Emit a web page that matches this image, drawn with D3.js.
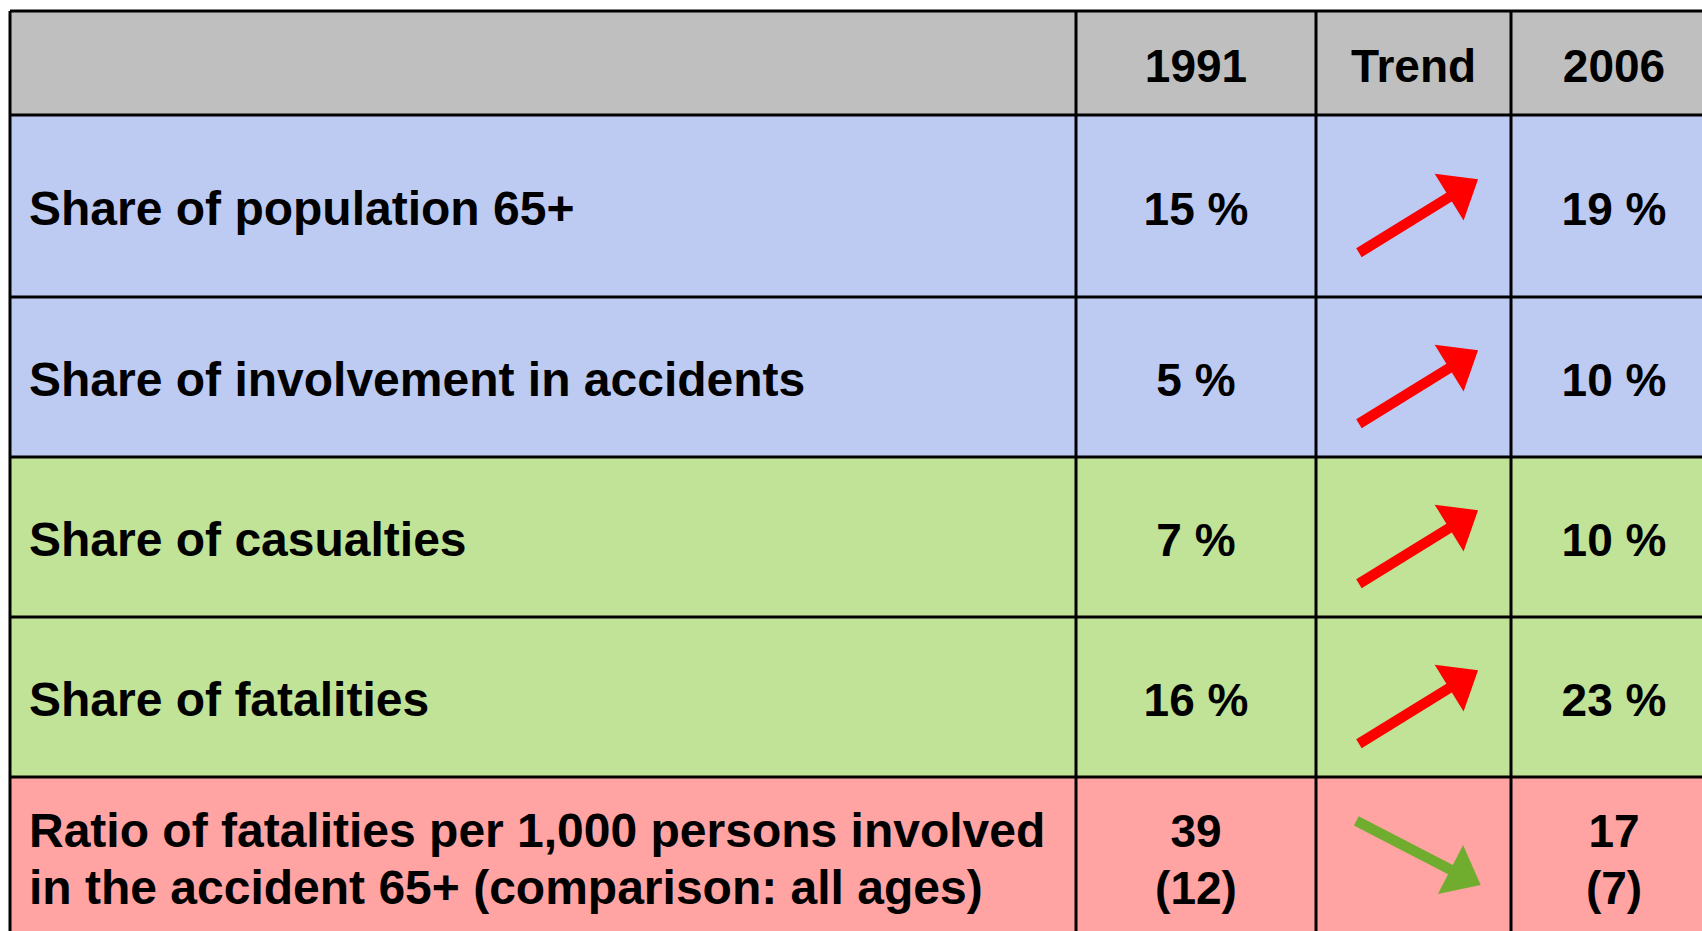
<!DOCTYPE html>
<html>
<head>
<meta charset="utf-8">
<script src="https://cdn.jsdelivr.net/npm/d3@7"></script>
<style>
  body { margin: 0; background: #fff; }
  text { font-family: "Liberation Sans", Arial, Helvetica, sans-serif; font-weight: bold; fill: #000; }
</style>
</head>
<body>
<svg id="table" width="1702" height="931"></svg>
<script>
// data
var headers = ["", "1991", "Trend", "2006"];
var labels = [
    ["Share of population 65+"],
    ["Share of involvement in accidents"],
    ["Share of casualties"],
    ["Share of fatalities"],
    ["Ratio of fatalities per 1,000 persons involved", "in the accident 65+ (comparison: all ages)"]
];
var values1991 = [["15 %"], ["5 %"], ["7 %"], ["16 %"], ["39", "(12)"]];
var values2006 = [["19 %"], ["10 %"], ["10 %"], ["23 %"], ["17", "(7)"]];
var trends = ["up", "up", "up", "up", "down"];
var groups = ["population", "population", "accidents", "accidents", "ratio"];

// layout
var rowH = [104, 182, 160, 160, 160, 160];
var colW = [1066, 240, 195, 206];
var x0 = 10, y0 = 11;
var rowEdges = [y0].concat(Array.from(d3.cumsum(rowH), function(d) { return d + y0; }));
var colEdges = [x0].concat(Array.from(d3.cumsum(colW), function(d) { return d + x0; }));

var colorScale = d3.scaleOrdinal()
    .domain(["header", "population", "accidents", "ratio"])
    .range(["#bfbfbf", "#bdcbf3", "#c0e397", "#ffa3a3"]);
var arrowColor = d3.scaleOrdinal().domain(["up", "down"]).range(["#ff0000", "#70ad2f"]);
var arrowAngle = d3.scaleOrdinal().domain(["up", "down"]).range([-31.7, 27.3]);

var svg = d3.select('#table');
svg.append('rect').attr('width', 1702).attr('height', 931).attr('fill', '#fff');

// row backgrounds
var rowGroups = ["header"].concat(groups);
svg.append('g').selectAll('rect').data(rowGroups).enter().append('rect')
    .attr('x', x0)
    .attr('y', function(d, i) { return rowEdges[i]; })
    .attr('width', colEdges[4] - x0)
    .attr('height', function(d, i) { return rowH[i]; })
    .attr('fill', function(d) { return colorScale(d); });

// grid lines
var grid = svg.append('g').attr('stroke', '#000').attr('stroke-width', 3);
grid.selectAll('.h').data(rowEdges).enter().append('line')
    .attr('x1', x0).attr('x2', colEdges[4])
    .attr('y1', function(d) { return d; }).attr('y2', function(d) { return d; });
grid.selectAll('.v').data(colEdges).enter().append('line')
    .attr('y1', y0).attr('y2', rowEdges[rowEdges.length - 1])
    .attr('x1', function(d) { return d; }).attr('x2', function(d) { return d; });

function rowCenter(i) { return (rowEdges[i] + rowEdges[i + 1]) / 2; }
function colCenter(j) { return (colEdges[j] + colEdges[j + 1]) / 2; }
var lineGap = 57, baseOff = 18.5;

// header
svg.append('g').selectAll('text').data(headers).enter().append('text')
    .attr('x', function(d, j) { return colCenter(j); })
    .attr('y', rowCenter(0) + baseOff)
    .attr('text-anchor', 'middle')
    .style('font-size', '46px')
    .text(function(d) { return d; });

// multi-line cell text
function cellText(g, lines, x, cy, anchor, size) {
    var top = cy - (lines.length - 1) * lineGap / 2 + baseOff;
    g.selectAll(null).data(lines).enter().append('text')
        .attr('x', x)
        .attr('y', function(d, k) { return top + k * lineGap; })
        .attr('text-anchor', anchor)
        .style('font-size', size)
        .text(function(d) { return d; });
}

var body = svg.append('g');
labels.forEach(function(lines, i) {
    var cy = rowCenter(i + 1);
    cellText(body, lines, x0 + 19, cy, 'start', '48px');
    cellText(body, values1991[i], colCenter(1), cy, 'middle', '46px');
    cellText(body, values2006[i], colCenter(3), cy, 'middle', '46px');
});

// trend arrows
var L = 140, headLen = 34, headHalf = 27.5, shaftHalf = 5.2;
var arrowShape = [[-L / 2, -shaftHalf], [L / 2 - headLen, -shaftHalf], [L / 2 - headLen, -headHalf],
    [L / 2, 0], [L / 2 - headLen, headHalf], [L / 2 - headLen, shaftHalf], [-L / 2, shaftHalf]];
svg.append('g').selectAll('path').data(trends).enter().append('path')
    .attr('d', d3.line()(arrowShape) + 'Z')
    .attr('fill', function(d) { return arrowColor(d); })
    .attr('transform', function(d, i) {
        var dy = d === 'up' ? 10 : -4;
        return 'translate(' + (colCenter(2) + 5) + ',' + (rowCenter(i + 1) + dy) + ') rotate(' + arrowAngle(d) + ')';
    });
</script>
</body>
</html>
